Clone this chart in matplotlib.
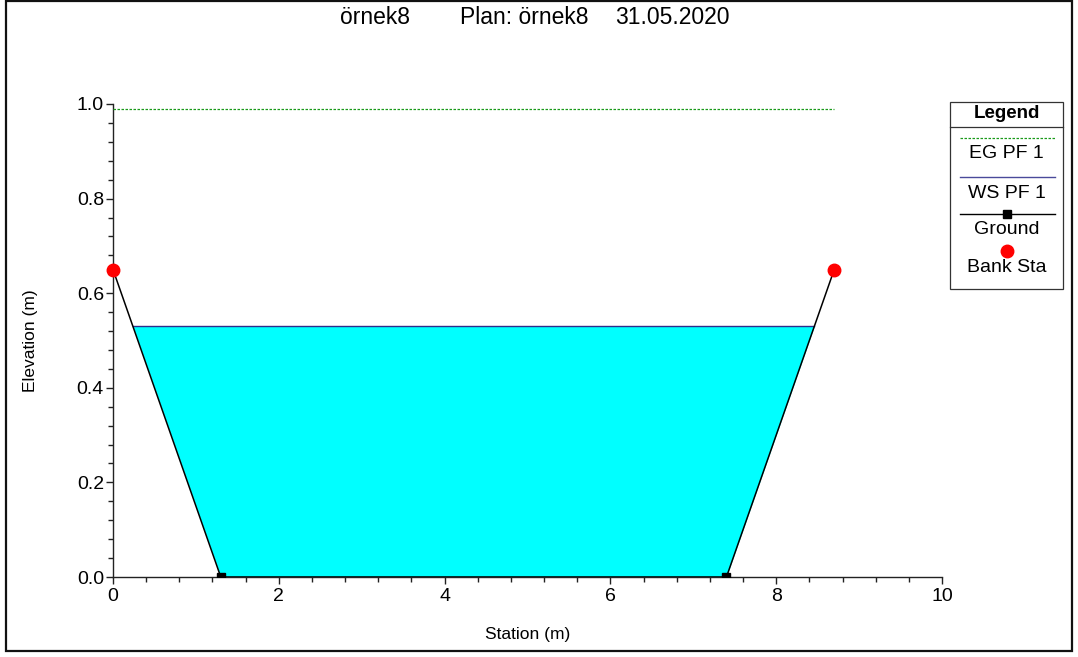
import numpy as np
import matplotlib
matplotlib.use("Agg")
import matplotlib.pyplot as plt
from matplotlib.lines import Line2D
from matplotlib.patches import Rectangle

plt.rcParams['font.family'] = ['Liberation Sans', 'DejaVu Sans']

# cross section data
station = [0.0, 1.3, 7.4, 8.7]
elevation = [0.65, 0.0, 0.0, 0.65]
bank_sta = [0.0, 8.7]
bank_elev = [0.65, 0.65]
ws_elev = 0.53   # WS PF 1
eg_elev = 0.99   # EG PF 1

title_parts = ["örnek8", "Plan: örnek8", "31.05.2020"]
x_ticks = [0, 2, 4, 6, 8, 10]
y_ticks = [0.0, 0.2, 0.4, 0.6, 0.8, 1.0]

W, H = 1078, 657
fig = plt.figure(figsize=(W / 100, H / 100), dpi=100)


def fx(px):
    return px / W


def fy(py):
    return 1 - py / H


ax = fig.add_axes([fx(113), fy(577), fx(942) - fx(113), fy(104) - fy(577)])

sta = np.array(station)
elev = np.array(elevation)

# water area
ax.fill_between(sta, elev, ws_elev, where=elev <= ws_elev, interpolate=True,
                color='#00FFFF', linewidth=0, zorder=1)

# water surface edges
x_left = np.interp(ws_elev, [elev[1], elev[0]], [sta[1], sta[0]])
x_right = np.interp(ws_elev, [elev[2], elev[3]], [sta[2], sta[3]])
ax.plot([x_left, x_right], [ws_elev, ws_elev], color='#2E2E8A', lw=1.0, zorder=3)

# energy grade line
ax.plot([sta.min(), sta.max()], [eg_elev, eg_elev], color='#1A9A1A', lw=0.9,
        linestyle=(0, (2, 1.2)), zorder=3)

# ground
ax.plot(sta, elev, color='black', lw=1.1, marker='s', markersize=5.5, zorder=4)
ax.plot(bank_sta, bank_elev, linestyle='none', marker='o', markersize=9,
        color='#FF0000', markeredgecolor='#FF0000', zorder=5, clip_on=False)

ax.set_xlim(0, 10)
ax.set_ylim(0, 1.0)
ax.set_xticks(x_ticks)
ax.set_yticks(y_ticks)
ax.set_xticklabels([str(v) for v in x_ticks])
ax.set_yticklabels(["%.1f" % v for v in y_ticks])
ax.set_xticks(np.arange(0, 10.01, 0.4), minor=True)
ax.set_yticks(np.arange(0, 1.001, 0.04), minor=True)
ax.tick_params(which='major', direction='out', length=5, width=1.0, color='#222222',
               labelsize=14, pad=1.5)
ax.tick_params(which='minor', direction='out', length=3.5, width=1.0, color='#222222')
ax.tick_params(axis='x', which='major', pad=3)
for side in ['top', 'right']:
    ax.spines[side].set_visible(False)
for side in ['left', 'bottom']:
    ax.spines[side].set_color('#222222')
    ax.spines[side].set_linewidth(1.0)

ax.set_xlabel("Station (m)", fontsize=12.5)
ax.set_ylabel("Elevation (m)", fontsize=12.5)
ax.xaxis.label.set_verticalalignment('center')
ax.yaxis.label.set_verticalalignment('center')
ax.xaxis.set_label_coords(0.5, -(634 - 577) / 473)
ax.yaxis.set_label_coords(-(113 - 30) / 829, 0.5)

# title
for txt, px in zip(title_parts, [340, 460, 615]):
    fig.text(fx(px), fy(18), txt, fontsize=16.5, ha='left', va='center')

# legend box drawn by hand
lx0, lx1, ly0, ly1 = 950, 1063, 102, 289
fig.add_artist(Rectangle((fx(lx0), fy(ly1)), fx(lx1) - fx(lx0), fy(ly0) - fy(ly1),
                         transform=fig.transFigure, fill=False, lw=0.9,
                         edgecolor='#333333'))
fig.add_artist(Line2D([fx(lx0), fx(lx1)], [fy(127), fy(127)],
                      transform=fig.transFigure, color='#333333', lw=0.9))
fig.text(fx((lx0 + lx1) / 2), fy(114), "Legend", fontsize=13.5, fontweight='bold',
         ha='center', va='center')

lcx = (lx0 + lx1) / 2
fig.add_artist(Line2D([fx(960), fx(1055)], [fy(138), fy(138)], transform=fig.transFigure,
                      color='#1A9A1A', lw=0.9, linestyle=(0, (2, 1.2))))
fig.text(fx(lcx), fy(154), "EG PF 1", fontsize=14, ha='center', va='center')
fig.add_artist(Line2D([fx(960), fx(1055)], [fy(177), fy(177)], transform=fig.transFigure,
                      color='#4A4A9A', lw=1.0))
fig.text(fx(lcx), fy(194), "WS PF 1", fontsize=14, ha='center', va='center')
fig.add_artist(Line2D([fx(960), fx(1055)], [fy(214), fy(214)], transform=fig.transFigure,
                      color='black', lw=1.0))
fig.add_artist(Line2D([fx(lcx)], [fy(214)], transform=fig.transFigure, color='black',
                      marker='s', markersize=5.5, linestyle='none'))
fig.text(fx(lcx), fy(229), "Ground", fontsize=14, ha='center', va='center')
fig.add_artist(Line2D([fx(lcx)], [fy(251)], transform=fig.transFigure, color='#FF0000',
                      marker='o', markersize=9, linestyle='none'))
fig.text(fx(lcx), fy(268), "Bank Sta", fontsize=14, ha='center', va='center')

# outer frame
fig.add_artist(Rectangle((fx(6), fy(651)), fx(1072) - fx(6), fy(1) - fy(651),
                         transform=fig.transFigure, fill=False, lw=1.6, edgecolor='#111111'))

fig.savefig("out.png", dpi=100)
